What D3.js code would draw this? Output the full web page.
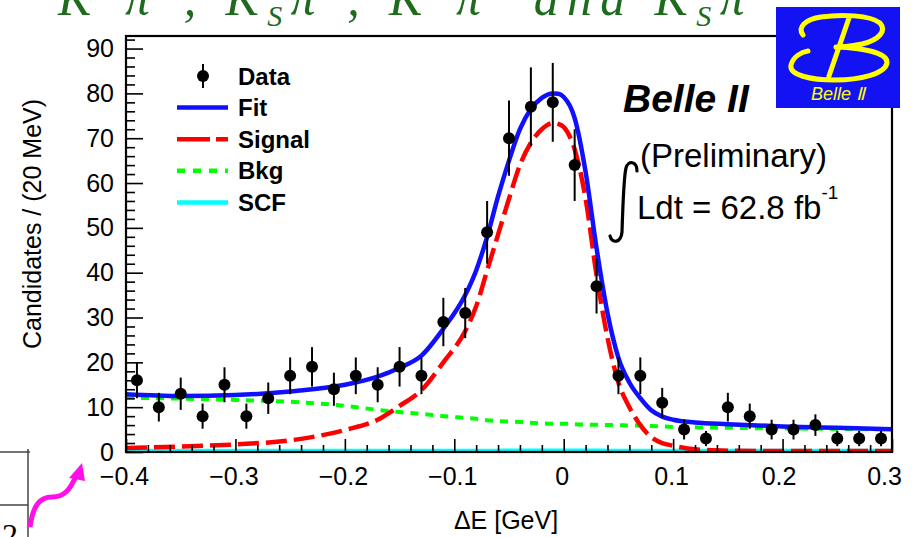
<!DOCTYPE html>
<html><head><meta charset="utf-8">
<script src="https://cdn.jsdelivr.net/npm/d3@7"></script>
<style>body{margin:0;background:#fff}svg{display:block}</style>
</head><body><svg id="c" width="914" height="537"></svg>
<script>
// ---------- data ----------
const binCenters = [-0.39,-0.37,-0.35,-0.33,-0.31,-0.29,-0.27,-0.25,-0.23,-0.21,-0.19,-0.17,-0.15,-0.13,-0.11,-0.09,-0.07,-0.05,-0.03,-0.01,0.01,0.03,0.05,0.07,0.09,0.11,0.13,0.15,0.17,0.19,0.21,0.23,0.25,0.27,0.29];
const counts = [16,10,13,8,15,8,12,17,19,14,17,15,19,17,29,31,49,70,77,78,64,37,17,17,11,5,3,10,8,5,5,6,3,3,3];
const errors = [4,3.2,3.6,2.8,3.9,2.8,3.5,4.1,4.4,3.7,4.1,3.9,4.4,4.1,5.4,5.6,7,8.4,8.8,8.8,8,6.1,4.1,4.1,3.3,2.2,1.7,3.2,2.8,2.2,2.2,2.4,1.7,1.7,1.7];

const curveX = [-0.40,-0.35,-0.30,-0.25,-0.20,-0.17,-0.15,-0.13,-0.11,-0.09,-0.08,-0.07,-0.06,-0.05,-0.04,-0.03,-0.02,-0.01,-0.005,0.00,0.01,0.02,0.03,0.04,0.05,0.06,0.07,0.08,0.09,0.10,0.12,0.15,0.20,0.25,0.30];
const fitVals = [12.9,12.5,12.7,13.5,15.0,16.8,18.8,21.5,27.5,35.0,40.5,48.0,57.0,65.0,72.0,76.5,79.0,80.0,79.9,79.2,74.5,62.5,45.5,31.0,21.0,15.5,12.0,9.3,7.9,7.2,6.6,6.2,5.7,5.4,5.1];
const sigVals = [0.9,1.2,1.7,2.6,4.9,7.2,10.3,13.8,20.0,27.0,32.5,40.5,48.5,56.5,64.0,69.0,72.0,73.4,73.2,72.5,67.5,56.5,39.5,25.5,15.5,10.0,6.0,3.3,2.0,1.4,0.6,0.3,0.2,0.2,0.2];
const bkgVals = [12.1,11.9,11.6,11.2,10.3,9.4,8.9,8.5,8.0,7.6,7.4,7.1,6.9,6.8,6.7,6.5,6.4,6.3,6.3,6.3,6.2,6.1,6.1,6.0,6.0,5.9,5.9,5.8,5.7,5.6,5.5,5.4,5.25,5.15,5.05];
const scfVals = [0.3,0.3,0.3,0.3,0.3,0.3,0.3,0.3,0.3,0.3,0.3,0.3,0.3,0.35,0.35,0.35,0.35,0.35,0.35,0.35,0.35,0.35,0.35,0.3,0.3,0.3,0.3,0.3,0.3,0.3,0.3,0.3,0.3,0.3,0.3];

const xTicks = [-0.4,-0.3,-0.2,-0.1,0,0.1,0.2,0.3];
const xTickLabels = ["\u22120.4","\u22120.3","\u22120.2","\u22120.1","0","0.1","0.2","0.3"];
const yTicks = [0,10,20,30,40,50,60,70,80,90];
const yTickLabels = ["0","10","20","30","40","50","60","70","80","90"];
const legendLabels = ["Data","Fit","Signal","Bkg","SCF"];
const xTitle = "\u0394E [GeV]";
const yTitle = "Candidates / (20 MeV)";

// ---------- layout ----------
const L = 126, R = 892, T = 36, B = 452;
const svg = d3.select("#c");
const x = d3.scaleLinear().domain([-0.4, 0.3]).range([L, R]);
const y = d3.scaleLinear().domain([0, 92.8]).range([B, T]);
const FONT = "'Liberation Sans', Arial, Helvetica, sans-serif";

svg.append("rect").attr("width",914).attr("height",537).attr("fill","#fff");

// title fragment (cropped at top of the slide)
const title = svg.append("text").attr("x", 58).attr("y", 15)
  .attr("font-family","'Liberation Serif','Times New Roman',serif").attr("font-style","italic")
  .attr("font-size", 50).attr("fill","#1e6b1e")
  .attr("textLength", 712).attr("lengthAdjust","spacing");
const titleParts = [["K",0],["+",-1],["\u03c0",0],["\u2212",-1],[", K",0],["S",1],["\u03c0",0],["0",-1],[", K",0],["+",-1],["\u03c0",0],["0",-1],[" and K",0],["S",1],["\u03c0",0],["+",-1]];
let cur = 0;
titleParts.forEach(([t,s]) => {
  const target = s === -1 ? -20 : (s === 1 ? 11 : 0);
  const ts = title.append("tspan").attr("dy", target - cur).text(t);
  cur = target;
  if (s !== 0) ts.attr("font-size",30).attr("font-style", s === -1 ? "normal" : "italic");
});

// clip for curves
svg.append("clipPath").attr("id","plotclip").append("rect")
  .attr("x",L).attr("y",T).attr("width",R-L).attr("height",B-T);
const plot = svg.append("g").attr("clip-path","url(#plotclip)");

const mkLine = vals => d3.line()
  .x((d,i) => x(curveX[i])).y(d => y(d)).curve(d3.curveMonotoneX)(vals);

plot.append("path").attr("d", mkLine(scfVals)).attr("fill","none")
  .attr("stroke","#00ffff").attr("stroke-width",4);
plot.append("path").attr("d", mkLine(bkgVals)).attr("fill","none")
  .attr("stroke","#00ff00").attr("stroke-width",4).attr("stroke-dasharray","8,7");
plot.append("path").attr("d", mkLine(sigVals)).attr("fill","none")
  .attr("stroke","#ff0000").attr("stroke-width",4.5).attr("stroke-dasharray","21,7");
plot.append("path").attr("d", mkLine(fitVals)).attr("fill","none")
  .attr("stroke","#1010ff").attr("stroke-width",4.5);

// data points
const pts = svg.append("g");
binCenters.forEach((c,i) => {
  const v = counts[i], e = errors[i];
  pts.append("line").attr("x1",x(c)).attr("x2",x(c))
    .attr("y1",Math.max(y(v+e),T)).attr("y2",y(Math.max(v-e,0)))
    .attr("stroke","#000").attr("stroke-width",2);
  pts.append("circle").attr("cx",x(c)).attr("cy",y(v)).attr("r",6).attr("fill","#000");
});

// axes
function styleAxis(g){
  g.select(".domain").remove();
  g.selectAll(".tick line").attr("stroke","#000").attr("stroke-width",1.6);
  g.selectAll(".tick text").attr("font-family",FONT).attr("font-size",25).attr("fill","#000");
}
const xMinor = d3.range(-0.38, 0.3, 0.02).filter(v => Math.abs(Math.round(v*10)-v*10) > 1e-6);
const yMinor = d3.range(2, 93, 2).filter(v => v % 10 !== 0);

svg.append("g").attr("transform",`translate(0,${B})`)
  .call(d3.axisBottom(x).tickValues(xMinor).tickSizeInner(-7).tickSizeOuter(0).tickFormat(""))
  .call(styleAxis);
const gxMaj = svg.append("g").attr("transform",`translate(0,${B})`)
  .call(d3.axisBottom(x).tickValues(xTicks).tickSizeInner(-13).tickSizeOuter(0).tickPadding(15)
    .tickFormat((d,i) => xTickLabels[i]))
  .call(styleAxis);
gxMaj.selectAll(".tick text").attr("dx", d => d > 0.25 ? -8 : (d > 0.15 ? -4 : -2));
svg.append("g").attr("transform",`translate(${L},0)`)
  .call(d3.axisLeft(y).tickValues(yMinor).tickSizeInner(-9).tickSizeOuter(0).tickFormat(""))
  .call(styleAxis);
svg.append("g").attr("transform",`translate(${L},0)`)
  .call(d3.axisLeft(y).tickValues(yTicks).tickSizeInner(-17).tickSizeOuter(0).tickPadding(12)
    .tickFormat((d,i) => yTickLabels[i]))
  .call(styleAxis);

// frame
svg.append("rect").attr("x",L).attr("y",T).attr("width",R-L).attr("height",B-T)
  .attr("fill","none").attr("stroke","#000").attr("stroke-width",2.2);

// axis titles
svg.append("text").attr("x",506).attr("y",529).attr("text-anchor","middle")
  .attr("font-family",FONT).attr("font-size",25).text(xTitle);
svg.append("text").attr("transform","translate(41,224) rotate(-90)").attr("text-anchor","middle")
  .attr("font-family",FONT).attr("font-size",25).text(yTitle);

// legend
const lg = svg.append("g");
const ly0 = 76, lstep = 31.6;
lg.append("line").attr("x1",203).attr("x2",203).attr("y1",ly0-12).attr("y2",ly0+12)
  .attr("stroke","#000").attr("stroke-width",2);
lg.append("circle").attr("cx",203).attr("cy",ly0).attr("r",6).attr("fill","#000");
const legStyles = [null,
  {c:"#1010ff", d:null, w:4.5},
  {c:"#ff0000", d:"33,6,12", w:4.5},
  {c:"#00ff00", d:"8,8", w:4.5},
  {c:"#00ffff", d:null, w:4.5}];
legendLabels.forEach((lab,i) => {
  const yy = ly0 + i*lstep;
  if (legStyles[i]) {
    const s = legStyles[i];
    const ln = lg.append("line").attr("x1",177).attr("x2",228).attr("y1",yy).attr("y2",yy)
      .attr("stroke",s.c).attr("stroke-width",s.w);
    if (s.d) ln.attr("stroke-dasharray",s.d);
  }
  lg.append("text").attr("x",238).attr("y",yy).attr("dy","0.36em")
    .attr("font-family",FONT).attr("font-weight","bold").attr("font-size",24).text(lab);
});

// Belle II labels
svg.append("text").attr("x",623).attr("y",112).attr("font-family",FONT)
  .attr("font-weight","bold").attr("font-style","italic").attr("font-size",39).text("Belle II");
svg.append("text").attr("x",640).attr("y",167).attr("font-family",FONT)
  .attr("font-size",33).text("(Preliminary)");
const ldt = svg.append("text").attr("x",637).attr("y",219).attr("font-family",FONT)
  .attr("font-size",33).text("Ldt = 62.8 fb");
ldt.append("tspan").attr("font-size",19).attr("dy",-20).text("-1");
// integral sign
svg.append("path").attr("d","M637,171 C637,161 628,160 626,168 C624,176 623,200 622,232 C621,243 612,244 610,236")
  .attr("fill","none").attr("stroke","#000").attr("stroke-width",3.2).attr("stroke-linecap","round");

// logo
const logo = svg.append("g");
logo.append("rect").attr("x",776).attr("y",7).attr("width",124).attr("height",101).attr("fill","#1212f2");
logo.append("path")
  .attr("d","M803,35 C797,27 806,19 821,17 C841,14 870,15 880,23 C887,31 879,40 862,44 C852,46 843,47 836,47 M849,18 L829,76 M836,47 C861,48 888,52 887,63 C885,74 860,80 835,80 C810,80 789,75 791,65 C793,57 801,52 808,51")
  .attr("fill","none").attr("stroke","#ffff00").attr("stroke-width",5).attr("stroke-linecap","round");
logo.append("text").attr("x",838).attr("y",100).attr("text-anchor","middle")
  .attr("font-family",FONT).attr("font-style","italic").attr("font-size",18).attr("fill","#ffff00")
  .text("Belle \u2161");

// bottom-left page fragment
const frag = svg.append("g").attr("stroke","#444").attr("stroke-width",1.5).attr("fill","none");
frag.append("line").attr("x1",0).attr("x2",30).attr("y1",452).attr("y2",452);
frag.append("line").attr("x1",0).attr("x2",28).attr("y1",505).attr("y2",505);
frag.append("line").attr("x1",28).attr("x2",28).attr("y1",449).attr("y2",537);
svg.append("text").attr("x",2).attr("y",546).attr("font-family","'Liberation Serif',serif")
  .attr("font-size",32).text("2");
svg.append("path").attr("d","M30,527 C33,505 40,497 52,497 C64,497 70,490 76,476")
  .attr("fill","none").attr("stroke","#ff10e8").attr("stroke-width",5);
svg.append("path").attr("d","M82,463 L69,478 L85,481 Z").attr("fill","#ff10e8");
</script></body></html>
